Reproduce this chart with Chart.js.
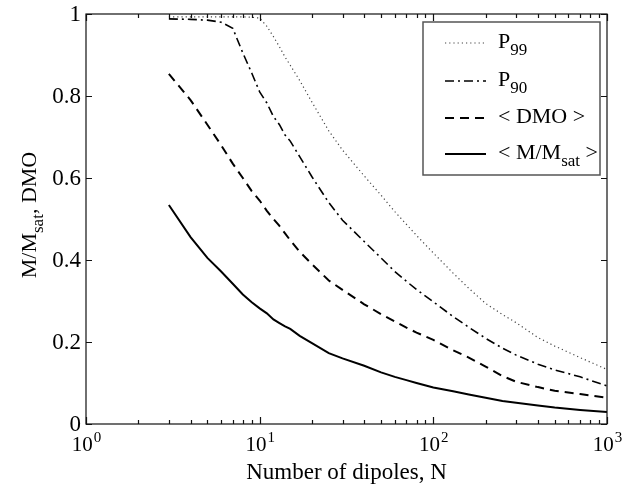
<!DOCTYPE html>
<html>
<head>
<meta charset="utf-8">
<script src="https://cdn.jsdelivr.net/npm/chart.js@4"></script>
<style>
body{margin:0;background:#fff}
canvas{display:block}
</style>
</head>
<body>
<canvas id="dipoles" width="630" height="487"></canvas>
<script>

/* =========================
   DATA
========================= */

const nDipoles = [3,4,5,6,7,8,9,10,11,12,13,14,15,17,20,25,30,40,50,60,70,80,100,130,160,200,250,300,400,500,700,1000]

const p99 = [.993,.993,.993,.993,.993,.993,.992,.99,.97,.945,.92,.895,.875,.838,.785,.715,.668,.605,.558,.518,.487,.46,.417,.368,.331,.294,.267,.247,.211,.19,.162,.133]
const p90 = [.988,.987,.985,.98,.965,.905,.856,.81,.783,.75,.73,.705,.69,.652,.603,.54,.497,.445,.405,.372,.348,.328,.298,.262,.236,.209,.185,.168,.146,.132,.115,.093]
const dmo = [.854,.79,.73,.68,.635,.6,.568,.545,.52,.5,.483,.465,.448,.42,.39,.35,.327,.292,.268,.25,.235,.223,.205,.18,.162,.14,.117,.103,.09,.081,.073,.064]
const mSat = [.534,.456,.405,.372,.342,.316,.297,.282,.27,.255,.246,.238,.232,.215,.197,.173,.16,.142,.126,.115,.107,.1,.089,.08,.072,.064,.056,.052,.045,.04,.034,.029]

const xDecades = [1,10,100,1000]
const xExponents = ["0","1","2","3"]
const yTicks = [0,0.2,0.4,0.6,0.8,1]
const yTickLabels = ["0","0.2","0.4","0.6","0.8","1"]

/* legend rows: main text, subscript, tail text */
const legendRows = [
["P","99",""],
["P","90",""],
["< DMO >","",""],
["< M/M","sat"," >"]
]

const FONT = "'Liberation Serif', 'DejaVu Serif', serif"

function pts(vals){
return nDipoles.map((n,i)=>({x:n,y:vals[i]}))
}

const styles = [
{data:p99, color:"#444", width:1.2, dash:[1.2,3]},
{data:p90, color:"#000", width:1.6, dash:[9,4,2,4]},
{data:dmo, color:"#000", width:2, dash:[9,6]},
{data:mSat, color:"#000", width:2, dash:[]}
]

/* =========================
   FRAME, TICKS, TEXT
========================= */

function subText(ctx,x,y,parts,size,subSize,align){
// parts: [main, sub, tail]
ctx.font = size+"px "+FONT
const w1 = ctx.measureText(parts[0]).width
const w3 = ctx.measureText(parts[2]).width
ctx.font = subSize+"px "+FONT
const w2 = ctx.measureText(parts[1]).width
let sx = x
if(align==="center") sx = x-(w1+w2+w3)/2
ctx.textAlign = "left"
ctx.textBaseline = "alphabetic"
ctx.font = size+"px "+FONT
ctx.fillText(parts[0],sx,y)
ctx.font = subSize+"px "+FONT
ctx.fillText(parts[1],sx+w1,y+7)
ctx.font = size+"px "+FONT
ctx.fillText(parts[2],sx+w1+w2,y)
}

const framePlugin = {
id:"frame",
afterDraw(chart){
const ctx = chart.ctx
const a = chart.chartArea
const xs = chart.scales.x
const ys = chart.scales.y

ctx.save()
ctx.strokeStyle = "#111"
ctx.lineWidth = 1.2
ctx.setLineDash([])
ctx.strokeRect(a.left,a.top,a.right-a.left,a.bottom-a.top)

// x ticks, major + minor, top and bottom, pointing inward
ctx.beginPath()
for(let d=1; d<=1000; d*=10){
for(let k=1; k<10; k++){
const v = d*k
if(v>1000) break
const px = Math.round(xs.getPixelForValue(v))+0.5
const len = k===1 ? 7 : 4
ctx.moveTo(px,a.bottom); ctx.lineTo(px,a.bottom-len)
ctx.moveTo(px,a.top); ctx.lineTo(px,a.top+len)
}
}
// y ticks left and right
yTicks.forEach(v=>{
const py = Math.round(ys.getPixelForValue(v))+0.5
ctx.moveTo(a.left,py); ctx.lineTo(a.left+6,py)
ctx.moveTo(a.right,py); ctx.lineTo(a.right-6,py)
})
ctx.stroke()

ctx.fillStyle = "#000"

// y tick labels
ctx.font = "23px "+FONT
ctx.textAlign = "right"
ctx.textBaseline = "middle"
yTicks.forEach((v,i)=>{
ctx.fillText(yTickLabels[i],81,ys.getPixelForValue(v)+1)
})

// x tick labels 10^n
xDecades.forEach((v,i)=>{
const px = xs.getPixelForValue(v)
ctx.font = "21px "+FONT
const wb = ctx.measureText("10").width
ctx.font = "15px "+FONT
const we = ctx.measureText(xExponents[i]).width
const sx = px-(wb+we)/2
ctx.textAlign = "left"
ctx.textBaseline = "alphabetic"
ctx.font = "21px "+FONT
ctx.fillText("10",sx,451)
ctx.font = "15px "+FONT
ctx.fillText(xExponents[i],sx+wb+1,442)
})

// x axis title
ctx.font = "23px "+FONT
ctx.textAlign = "center"
ctx.textBaseline = "alphabetic"
ctx.fillText("Number of dipoles, N",(a.left+a.right)/2,479)

// y axis title, rotated
ctx.save()
ctx.translate(36,(a.top+a.bottom)/2-4)
ctx.rotate(-Math.PI/2)
subText(ctx,0,0,["M/M","sat",", DMO"],22,17,"center")
ctx.restore()

// legend box
const lx = 423, ly = 22, lw = 177, lh = 153
ctx.fillStyle = "#fff"
ctx.fillRect(lx,ly,lw,lh)
ctx.strokeStyle = "#555"
ctx.lineWidth = 1.5
ctx.strokeRect(lx,ly,lw,lh)

const rowY = [43,81,118,154]
legendRows.forEach((row,i)=>{
const s = styles[i]
ctx.strokeStyle = s.color
ctx.lineWidth = s.width
ctx.setLineDash(s.dash)
ctx.beginPath()
ctx.moveTo(445,rowY[i]); ctx.lineTo(486,rowY[i])
ctx.stroke()
ctx.setLineDash([])
ctx.fillStyle = "#000"
subText(ctx,498,rowY[i]+5,row,22,17,"left")
})

ctx.restore()
}
}

/* =========================
   CHART
========================= */

new Chart(document.getElementById("dipoles"),{
type:"line",
data:{
datasets: styles.map(s=>({
data: pts(s.data),
borderColor: s.color,
borderWidth: s.width,
borderDash: s.dash,
pointRadius: 0,
fill: false,
tension: 0
}))
},
options:{
responsive:false,
animation:false,
layout:{padding:{left:86,top:14,right:23,bottom:63}},
plugins:{legend:{display:false},tooltip:{enabled:false}},
scales:{
x:{type:"logarithmic",min:1,max:1000,display:false},
y:{type:"linear",min:0,max:1,display:false}
}
},
plugins:[framePlugin]
})

</script>
</body>
</html>
